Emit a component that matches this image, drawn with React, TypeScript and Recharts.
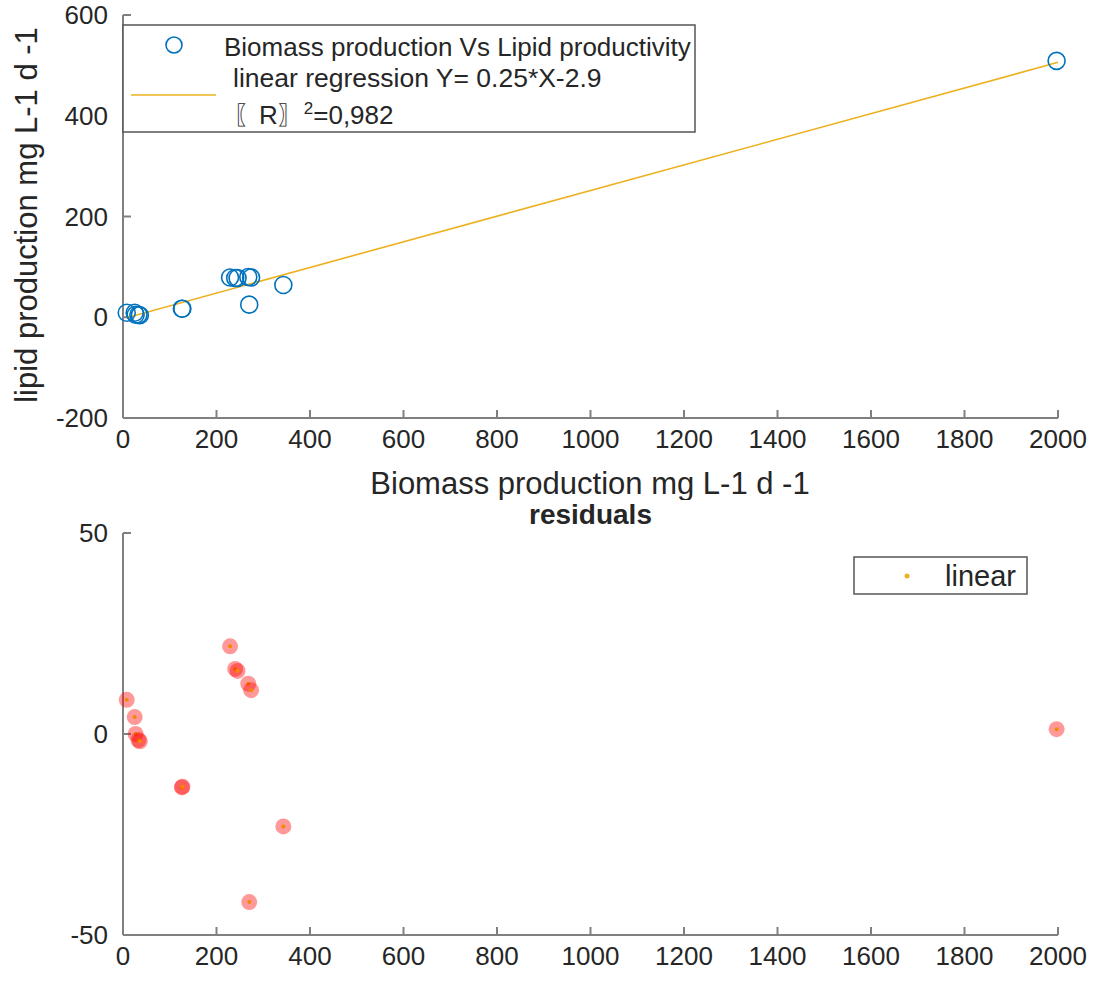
import React from 'react';
import { ScatterChart, Scatter, XAxis, YAxis, Label } from 'recharts';

// values
const biomass = [8, 25, 27, 33, 36, 126, 127, 229, 240, 245, 268, 274, 270, 343, 1997];
const lipid = [9, 9, 5, 5, 4, 17, 17, 79, 78, 78, 80, 79, 25, 64, 509];
const residuals = [8.5, 4.2, 0, -1.5, -1.8, -13.3, -13.1, 21.8, 16.2, 15.7, 12.5, 10.9, -41.8, -23, 1.2];
const fitX = [8, 2000];
const fitY = [-0.9, 506];
const xTicks = [0, 200, 400, 600, 800, 1000, 1200, 1400, 1600, 1800, 2000];
const lipidTicks = [-200, 0, 200, 400, 600];
const residualTicks = [-50, 0, 50];

const points = biomass.map((x, i) => ({ x, y: lipid[i] }));
const fitLine = fitX.map((x, i) => ({ x, y: fitY[i] }));
const residualPoints = biomass.map((x, i) => ({ x, y: residuals[i] }));

const FONT = '"Liberation Sans", Arial, sans-serif';
const AXIS = '#808080';
const TEXT = '#262626';
const BLUE = '#0072BD';
const ORANGE = '#EDB120';

const tickStyle = { fill: TEXT, fontSize: 26, fontFamily: FONT };

export default function App() {
  return (
    <div style={{ position: 'absolute', left: 0, top: 0, width: 1093, height: 984, background: '#fff', fontFamily: FONT }}>
      <ScatterChart width={1093} height={500} margin={{ top: 15, right: 35, left: 0, bottom: 2 }}>
        <XAxis type="number" dataKey="x" domain={[0, 2000]} ticks={xTicks} interval={0}
          tickSize={-8} tickMargin={20} height={80} stroke={AXIS} strokeWidth={2} tick={tickStyle}>
          <Label content={() => (
            <text x={590} y={494} textAnchor="middle" fill={TEXT} fontSize={31} fontFamily={FONT}>
              Biomass production mg L-1 d -1
            </text>
          )} />
        </XAxis>
        <YAxis type="number" dataKey="y" domain={[-200, 600]} ticks={lipidTicks} interval={0}
          tickSize={-8} tickMargin={23} width={123} stroke={AXIS} strokeWidth={2} tick={tickStyle}>
          <Label content={() => (
            <text x={37} y={215} transform="rotate(-90 37 215)" textAnchor="middle" fill={TEXT} fontSize={31} fontFamily={FONT}>
              lipid production mg L-1 d -1
            </text>
          )} />
        </YAxis>
        <Scatter data={fitLine} isAnimationActive={false} line={{ stroke: ORANGE, strokeWidth: 1.6 }}
          shape={() => <g />} />
        <Scatter data={points} isAnimationActive={false}
          shape={(p: any) => <circle cx={p.cx} cy={p.cy} r={8.5} fill="none" stroke={BLUE} strokeWidth={1.6} />} />
      </ScatterChart>

      <ScatterChart width={1093} height={484} margin={{ top: 33, right: 35, left: 0, bottom: 4 }}>
        <XAxis type="number" dataKey="x" domain={[0, 2000]} ticks={xTicks} interval={0}
          tickSize={-8} tickMargin={20} height={45} stroke={AXIS} strokeWidth={2} tick={tickStyle} />
        <YAxis type="number" dataKey="y" domain={[-50, 50]} ticks={residualTicks} interval={0}
          tickSize={-8} tickMargin={23} width={123} stroke={AXIS} strokeWidth={2} tick={tickStyle} />
        <Scatter data={residualPoints} isAnimationActive={false}
          shape={(p: any) => (
            <g>
              <circle cx={p.cx} cy={p.cy} r={8} fill="rgba(255,0,0,0.4)" />
              <circle cx={p.cx} cy={p.cy} r={2} fill="#f28a00" />
            </g>
          )} />
      </ScatterChart>

      {/* top legend */}
      <svg style={{ position: 'absolute', left: 122, top: 24 }} width={575} height={110}>
        <rect x={1} y={1} width={572} height={107} fill="#fff" stroke="#555" strokeWidth={1.5} />
        <circle cx={52} cy={21} r={8} fill="none" stroke={BLUE} strokeWidth={1.6} />
        <text x={102} y={32} fill={TEXT} fontSize={26} fontFamily={FONT}>Biomass production Vs Lipid productivity</text>
        <text x={111} y={63} fill={TEXT} fontSize={26.5} fontFamily={FONT}>linear regression Y= 0.25*X-2.9</text>
        <line x1={9} x2={94} y1={71} y2={71} stroke={ORANGE} strokeWidth={1.6} />
        <text x={111} y={100} fill={TEXT} fontSize={26} fontFamily={FONT}>
          〖R〗<tspan dy={-10} fontSize={17}>2</tspan><tspan dy={10}>=0,982</tspan>
        </text>
      </svg>

      {/* residuals title */}
      <div style={{ position: 'absolute', left: 0, width: 1181, top: 499, textAlign: 'center', fontWeight: 'bold', fontSize: 28, color: TEXT, lineHeight: '32px' }}>
        residuals
      </div>

      {/* bottom legend */}
      <svg style={{ position: 'absolute', left: 853, top: 556 }} width={176} height={40}>
        <rect x={1} y={1} width={173} height={37} fill="#fff" stroke="#555" strokeWidth={1.5} />
        <circle cx={54} cy={20} r={2.5} fill={ORANGE} />
        <text x={92} y={30} fill={TEXT} fontSize={29} fontFamily={FONT}>linear</text>
      </svg>
    </div>
  );
}
